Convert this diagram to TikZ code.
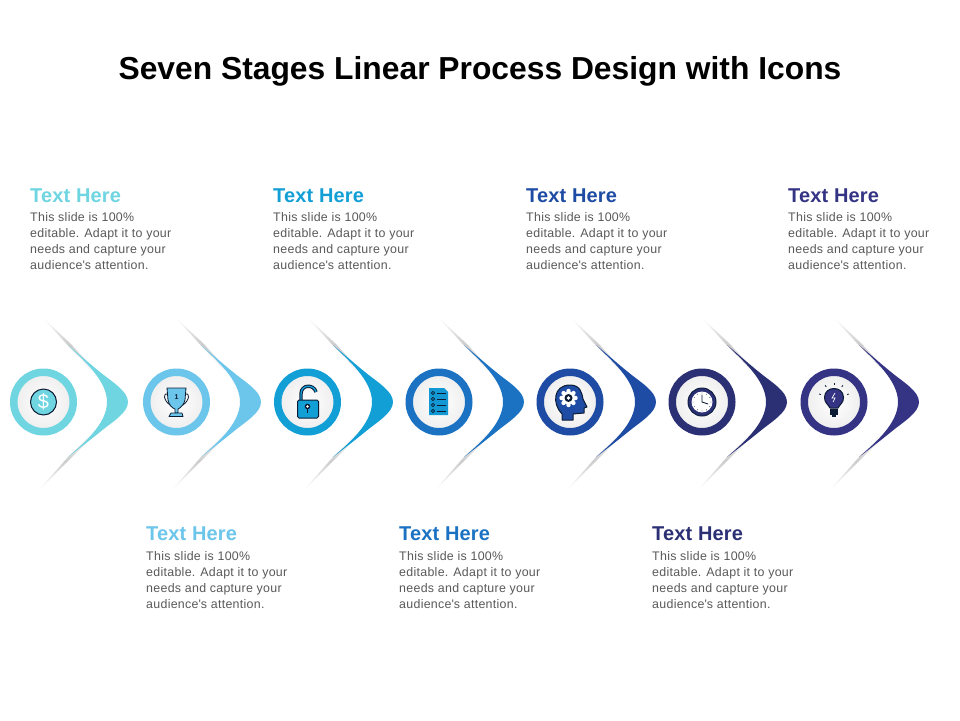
\documentclass[tikz,border=0pt]{standalone}
\usepackage{fontspec}
\setmainfont{Liberation Sans}
\definecolor{cA}{HTML}{6FD5E1}
\definecolor{cB}{HTML}{6CC5EA}
\definecolor{cC}{HTML}{129FD6}
\definecolor{cD}{HTML}{1B72C2}
\definecolor{cE}{HTML}{1E4BA3}
\definecolor{cF}{HTML}{2B3075}
\definecolor{cG}{HTML}{343384}
\definecolor{ink}{HTML}{0B1B33}
\definecolor{bodygrey}{HTML}{595959}
\tikzset{
  heading/.style={anchor=west,inner sep=0pt,font=\fontsize{20}{22}\selectfont\bfseries\addfontfeature{LetterSpace=.8}},
  bodytext/.style={anchor=north west,inner sep=0pt,align=left,text=bodygrey,font=\fontsize{12.4}{16}\selectfont\addfontfeature{LetterSpace=2.35}},
  ringnode/.style={circle,minimum size=59.5pt,line width=7.5pt,inner sep=0pt,draw=#1,inner color=white,outer color=black!7},
  iconline/.style={draw=ink,line width=1pt,line join=round,line cap=round},
}
\newcommand{\chevronshape}[2]{%
  \begin{scope}[shift={(#1,402)}]
    \shade[top color=white,bottom color=white,middle color=black!20] (-86,-85) -- (-58,-59) -- (-35,-34) -- (-36,-30) -- (-47.5,-44) -- (-60,-56.5) -- cycle;
    \shade[bottom color=white,top color=white,middle color=black!20] (-89,88) -- (-58,57) -- (-35,34) -- (-36,30) -- (-47.5,43) -- (-60,55) -- cycle;
    \fill[#2] (-60,-57) .. controls (-48,-47) and (-38,-38) .. (-28,-30)
      .. controls (-16,-20) and (0,-11) .. (0,0)
      .. controls (0,11) and (-16,20) .. (-28,30)
      .. controls (-38,38) and (-48,46) .. (-60,55)
      .. controls (-45,42) and (-21,22) .. (-21,0)
      .. controls (-21,-22) and (-45,-42) .. (-60,-57) -- cycle;
  \end{scope}}
\begin{document}
\begin{tikzpicture}[x=1pt,y=-1pt]
\useasboundingbox (0,0) rectangle (960,720);
\fill[white] (0,0) rectangle (960,720);
\node[inner sep=0pt,font=\fontsize{31.8}{36}\selectfont\bfseries] (title) at (480,71) {Seven Stages Linear Process Design with Icons};

\chevronshape{128}{cA}
\chevronshape{261}{cB}
\chevronshape{393}{cC}
\chevronshape{524}{cD}
\chevronshape{656}{cE}
\chevronshape{787}{cF}
\chevronshape{919}{cG}

\node[ringnode=cA] (r1) at (43.5,402) {};
\node[ringnode=cB] (r2) at (176.5,402) {};
\node[ringnode=cC] (r3) at (307.5,402) {};
\node[ringnode=cD] (r4) at (439,402) {};
\node[ringnode=cE] (r5) at (570,402) {};
\node[ringnode=cF] (r6) at (702,402) {};
\node[ringnode=cG] (r7) at (834,402) {};

% dollar
\draw[iconline,fill=cA] (43.5,402) circle (13);
\node[inner sep=0pt,text=white,font=\fontsize{20}{20}\selectfont] (dollar) at (43.5,402) {\$};

% trophy
\draw[iconline,line width=.8pt] (168,394) .. controls (163,392) and (163,400) .. (170,405);
\draw[iconline,line width=.8pt] (185,394) .. controls (190,392) and (190,400) .. (183,405);
\draw[iconline,line width=.8pt,fill=cB] (167,388) -- (186,388) -- (185,400) .. controls (184,405) and (180,408) .. (178,409) -- (178,413) -- (175,413) -- (175,409) .. controls (172,408) and (169,405) .. (168,400) -- cycle;
\draw[iconline,line width=.8pt,fill=cB] (171,413) -- (182,413) -- (183,416.5) -- (169,416.5) -- cycle;
\node[inner sep=0pt,text=ink,font=\fontsize{7}{7}\selectfont\bfseries] (one) at (176.5,397) {1};

% lock
\draw[ink,line width=3.4pt] (301,400) -- (301,394) .. controls (301,384) and (314,384) .. (316,392);
\draw[cC,line width=1.4pt] (301,400) -- (301,394) .. controls (301,384) and (314,384) .. (316,392);
\draw[iconline,fill=cC,rounded corners=1.5pt] (297.5,400) rectangle (318.5,418);
\fill[ink] (307.5,406.5) circle (2.8);
\draw[ink,line width=1.8pt] (307.5,406.5) -- (307.5,413);
\fill[white] (307.5,406.5) circle (1.3);

% list
\fill[cC!85!cD] (429,388) -- (444,388) -- (448,392) -- (448,415) -- (429,415) -- cycle;
\foreach \yy in {393,399,405,411} {
  \draw[ink,line width=.7pt] (433,\yy) circle (1.7);
  \draw[ink,line width=.9pt] (437,\yy) -- (446,\yy);
}

% head with gear
\draw[iconline,fill=cE] (562,420) -- (562,414) .. controls (552,404) and (553,385) .. (570,385)
  .. controls (581,385) and (582,394) .. (583,399) -- (587,407) -- (584,408) -- (584,413) -- (573,414) -- (573,420) -- cycle;
\fill[white] (568.5,398) circle (6.5);
\foreach \a in {0,45,...,315} { \fill[white] (568.5,398) ++(\a:7) circle (2.2); }
\fill[ink] (568.5,398) circle (4);
\fill[white] (568.5,398) circle (1.8);

% clock
\draw[ink!80!cF,line width=1pt,fill=cF] (702,402) circle (14);
\fill[white] (702,402) circle (10.5);
\foreach \a in {0,30,...,330} { \fill[ink] (702,402) ++(\a:9) circle (.45); }
\draw[ink,line width=.9pt,line cap=round] (702,395) -- (702,402) -- (708,404);

% bulb
\draw[iconline,fill=cG] (830,408) .. controls (828,404) and (824.5,403) .. (824.5,397.5)
  .. controls (824.5,385.5) and (843.5,385.5) .. (843.5,397.5)
  .. controls (843.5,403) and (840,404) .. (838,408) -- cycle;
\fill[ink] (830,409) rectangle (838,415);
\fill[ink] (832,415) rectangle (836,417);
\draw[white,line width=.7pt] (835,393) -- (832,398) -- (835,398) -- (833,402);
\foreach \a in {-165,-125,-90,-55,-15} {
  \draw[ink,line width=.8pt] (834,398) ++(\a:13.5) -- ++(\a:2);
}

% text
\newcommand{\bodylines}{This slide is 100\%\\editable. Adapt it to your\\needs and capture your\\audience\textquotesingle s attention.}
\node[heading,text=cA] (h1) at (30,196) {Text Here};
\node[bodytext] (b1) at (30,212) {\bodylines};
\node[heading,text=cC] (h3) at (273,196) {Text Here};
\node[bodytext] (b3) at (273,212) {\bodylines};
\node[heading,text=cE] (h5) at (526,196) {Text Here};
\node[bodytext] (b5) at (526,212) {\bodylines};
\node[heading,text=cG] (h7) at (788,196) {Text Here};
\node[bodytext] (b7) at (788,212) {\bodylines};
\node[heading,text=cB] (h2) at (146,534) {Text Here};
\node[bodytext] (b2) at (146,551) {\bodylines};
\node[heading,text=cD] (h4) at (399,534) {Text Here};
\node[bodytext] (b4) at (399,551) {\bodylines};
\node[heading,text=cF] (h6) at (652,534) {Text Here};
\node[bodytext] (b6) at (652,551) {\bodylines};
\end{tikzpicture}
\end{document}
